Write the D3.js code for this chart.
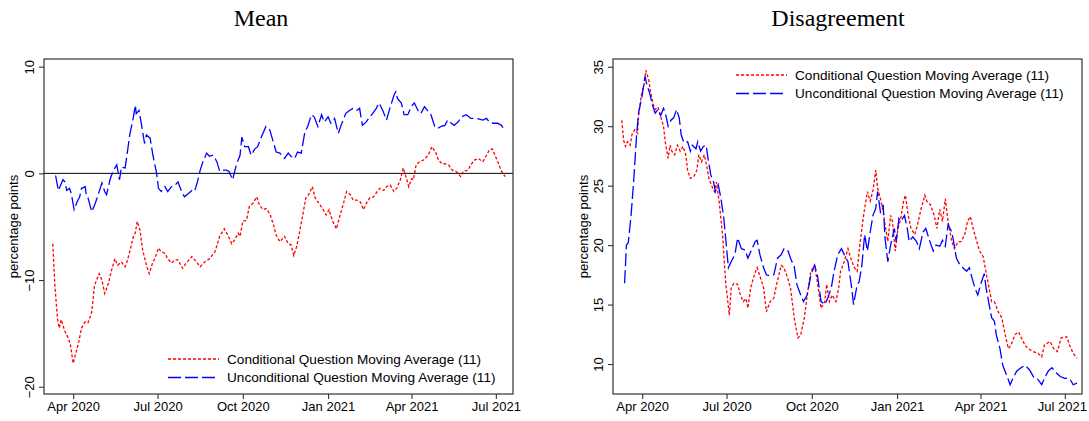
<!DOCTYPE html>
<html>
<head>
<meta charset="utf-8">
<script src="https://cdn.jsdelivr.net/npm/d3@7"></script>
<style>
body { margin: 0; background: #fff; }
text { font-family: "Liberation Sans", Arial, sans-serif; }
</style>
</head>
<body>
<svg id="chart" width="1089" height="421"></svg>
<script>
// values, [date, percentage points]
let meanConditional = [
  ["2020-03-10",-6.6],["2020-03-12",-10.2],["2020-03-15",-13.6],["2020-03-17",-14.5],["2020-03-19",-13.7],
  ["2020-03-23",-14.8],["2020-03-27",-15.5],["2020-03-29",-16.1],["2020-04-01",-17.8],["2020-04-04",-16.8],
  ["2020-04-07",-15.8],["2020-04-10",-14.5],["2020-04-14",-13.9],["2020-04-17",-14.0],["2020-04-21",-13.0],
  ["2020-04-24",-10.5],["2020-04-29",-9.4],["2020-05-02",-10.0],["2020-05-05",-11.25],["2020-05-09",-10.3],
  ["2020-05-12",-9.2],["2020-05-16",-8.0],["2020-05-19",-8.6],["2020-05-23",-8.3],["2020-05-27",-8.75],
  ["2020-05-29",-8.3],["2020-06-01",-7.35],["2020-06-05",-5.9],["2020-06-07",-5.6],["2020-06-09",-4.5],
  ["2020-06-12",-5.3],["2020-06-15",-7.2],["2020-06-19",-8.6],["2020-06-22",-9.4],["2020-06-26",-8.3],
  ["2020-06-28",-8.0],["2020-07-02",-7.0],["2020-07-05",-7.35],["2020-07-09",-7.5],["2020-07-12",-8.0],
  ["2020-07-16",-8.4],["2020-07-20",-8.1],["2020-07-23",-8.1],["2020-07-28",-8.9],["2020-08-01",-8.4],
  ["2020-08-07",-7.8],["2020-08-12",-8.3],["2020-08-16",-8.75],["2020-08-21",-8.3],["2020-08-26",-8.0],
  ["2020-09-01",-7.35],["2020-09-06",-5.9],["2020-09-11",-5.2],["2020-09-15",-5.8],["2020-09-19",-6.6],
  ["2020-09-22",-6.25],["2020-09-26",-5.6],["2020-09-28",-5.9],["2020-10-01",-4.5],["2020-10-05",-4.4],
  ["2020-10-08",-3.1],["2020-10-12",-2.8],["2020-10-16",-2.2],["2020-10-19",-3.0],["2020-10-23",-3.4],
  ["2020-10-26",-3.3],["2020-10-30",-3.75],["2020-11-03",-4.8],["2020-11-06",-5.8],["2020-11-10",-6.4],
  ["2020-11-15",-5.9],["2020-11-19",-6.6],["2020-11-22",-6.7],["2020-11-25",-7.7],["2020-11-28",-6.9],
  ["2020-12-01",-5.6],["2020-12-04",-4.2],["2020-12-08",-2.3],["2020-12-11",-2.0],["2020-12-15",-1.25],
  ["2020-12-18",-2.3],["2020-12-22",-2.8],["2020-12-26",-3.3],["2020-12-30",-3.9],["2021-01-02",-3.4],
  ["2021-01-06",-4.5],["2021-01-10",-5.2],["2021-01-14",-3.9],["2021-01-18",-2.7],["2021-01-21",-1.7],
  ["2021-01-25",-2.0],["2021-01-28",-2.5],["2021-02-01",-2.5],["2021-02-05",-2.7],["2021-02-08",-3.4],
  ["2021-02-12",-2.7],["2021-02-15",-2.3],["2021-02-19",-2.2],["2021-02-23",-1.7],["2021-02-26",-1.4],
  ["2021-03-02",-1.6],["2021-03-05",-1.25],["2021-03-09",-1.1],["2021-03-13",-1.7],["2021-03-16",-1.4],
  ["2021-03-20",-0.6],["2021-03-23",0.5],["2021-03-27",-0.6],["2021-03-29",-1.25],["2021-04-01",-0.5],
  ["2021-04-03",-0.6],["2021-04-06",0.8],["2021-04-10",1.1],["2021-04-14",1.25],["2021-04-19",1.7],
  ["2021-04-23",2.5],["2021-04-27",2.0],["2021-04-30",1.25],["2021-05-04",0.9],["2021-05-07",0.9],
  ["2021-05-11",0.8],["2021-05-15",0.3],["2021-05-19",0.2],["2021-05-24",-0.3],["2021-05-27",0.2],
  ["2021-06-01",0.3],["2021-06-04",0.8],["2021-06-08",1.25],["2021-06-12",1.4],["2021-06-17",1.1],
  ["2021-06-21",1.7],["2021-06-24",2.2],["2021-06-27",2.3],["2021-06-29",1.9],["2021-07-03",1.1],
  ["2021-07-07",0.2],["2021-07-11",-0.3]
]

let meanUnconditional = [
  ["2020-03-13",-0.2],["2020-03-16",-1.6],["2020-03-21",-0.6],["2020-03-23",-0.8],["2020-03-25",-1.6],
  ["2020-03-28",-1.4],["2020-03-30",-1.9],["2020-04-02",-3.4],["2020-04-05",-2.7],["2020-04-08",-2.2],
  ["2020-04-10",-1.4],["2020-04-14",-1.25],["2020-04-15",-2.0],["2020-04-17",-2.3],["2020-04-21",-3.6],
  ["2020-04-24",-3.0],["2020-04-28",-2.0],["2020-05-02",-0.9],["2020-05-05",-1.7],["2020-05-07",-2.0],
  ["2020-05-11",-0.5],["2020-05-14",0.2],["2020-05-18",0.8],["2020-05-21",-0.6],["2020-05-23",0.6],
  ["2020-05-27",0.5],["2020-05-29",1.7],["2020-06-01",3.6],["2020-06-05",5.3],["2020-06-07",6.4],
  ["2020-06-08",5.6],["2020-06-11",5.9],["2020-06-14",4.4],["2020-06-17",2.8],["2020-06-19",3.6],
  ["2020-06-23",3.3],["2020-06-26",1.7],["2020-06-30",0.0],["2020-07-02",-1.4],["2020-07-05",-1.7],
  ["2020-07-09",-1.25],["2020-07-12",-1.7],["2020-07-16",-1.25],["2020-07-20",-1.1],["2020-07-23",-0.8],
  ["2020-07-27",-1.7],["2020-07-30",-2.2],["2020-08-03",-1.9],["2020-08-07",-1.6],["2020-08-10",-1.7],
  ["2020-08-13",-0.8],["2020-08-16",0.3],["2020-08-19",1.1],["2020-08-23",1.9],["2020-08-26",1.6],
  ["2020-08-30",1.7],["2020-09-03",1.1],["2020-09-06",0.2],["2020-09-09",0.3],["2020-09-13",0.3],
  ["2020-09-16",0.2],["2020-09-20",-0.6],["2020-09-24",0.8],["2020-09-28",1.7],["2020-09-30",3.4],
  ["2020-10-03",2.5],["2020-10-07",2.5],["2020-10-10",1.7],["2020-10-14",2.3],["2020-10-17",2.5],
  ["2020-10-21",3.4],["2020-10-26",4.4],["2020-10-30",4.1],["2020-11-03",2.9],["2020-11-06",2.0],
  ["2020-11-10",1.9],["2020-11-15",1.4],["2020-11-19",1.9],["2020-11-22",1.6],["2020-11-26",1.4],
  ["2020-11-29",2.0],["2020-12-03",1.9],["2020-12-07",3.9],["2020-12-10",4.4],["2020-12-14",5.5],
  ["2020-12-17",5.3],["2020-12-21",4.4],["2020-12-25",5.5],["2020-12-28",4.8],["2021-01-01",5.3],
  ["2021-01-04",4.7],["2021-01-08",5.15],["2021-01-12",3.75],["2021-01-15",4.5],["2021-01-20",5.6],
  ["2021-01-24",5.9],["2021-01-28",6.1],["2021-02-01",5.9],["2021-02-04",6.1],["2021-02-07",4.5],
  ["2021-02-11",4.8],["2021-02-15",5.3],["2021-02-18",5.6],["2021-02-22",6.1],["2021-02-25",6.6],
  ["2021-03-01",5.9],["2021-03-05",5.0],["2021-03-08",5.9],["2021-03-13",7.3],["2021-03-15",7.65],
  ["2021-03-17",7.0],["2021-03-21",6.6],["2021-03-24",5.5],["2021-03-28",5.5],["2021-04-01",6.3],
  ["2021-04-04",6.6],["2021-04-08",5.9],["2021-04-11",5.6],["2021-04-15",6.25],["2021-04-19",5.8],
  ["2021-04-22",5.5],["2021-04-26",4.4],["2021-04-29",4.2],["2021-05-03",4.4],["2021-05-07",4.5],
  ["2021-05-10",5.0],["2021-05-14",4.7],["2021-05-17",4.5],["2021-05-21",4.8],["2021-05-25",5.3],
  ["2021-05-30",5.5],["2021-06-04",5.15],["2021-06-10",5.15],["2021-06-17",5.0],["2021-06-21",5.15],
  ["2021-06-24",4.8],["2021-06-28",4.7],["2021-07-03",4.7],["2021-07-07",4.5],["2021-07-10",4.1]
]

let disagreeConditional = [
  ["2020-03-10",30.5],["2020-03-12",28.8],["2020-03-14",28.3],["2020-03-16",28.7],["2020-03-19",28.4],
  ["2020-03-21",29.3],["2020-03-24",29.7],["2020-03-27",29.4],["2020-03-28",30.8],["2020-03-31",32.6],
  ["2020-04-03",33.5],["2020-04-05",34.7],["2020-04-08",33.9],["2020-04-10",32.9],["2020-04-13",31.8],
  ["2020-04-15",31.4],["2020-04-18",31.6],["2020-04-21",30.8],["2020-04-24",30.0],["2020-04-26",28.6],
  ["2020-04-29",27.3],["2020-05-01",28.4],["2020-05-03",27.9],["2020-05-06",27.6],["2020-05-09",28.4],
  ["2020-05-12",27.9],["2020-05-15",28.3],["2020-05-18",27.6],["2020-05-20",26.3],["2020-05-23",25.6],
  ["2020-05-27",25.8],["2020-05-30",26.3],["2020-06-01",27.6],["2020-06-04",27.0],["2020-06-07",27.6],
  ["2020-06-10",26.5],["2020-06-12",25.6],["2020-06-16",24.8],["2020-06-18",24.5],["2020-06-20",25.3],
  ["2020-06-23",23.7],["2020-06-27",20.6],["2020-06-30",16.9],["2020-07-04",14.1],["2020-07-06",16.4],
  ["2020-07-09",16.8],["2020-07-13",16.7],["2020-07-16",15.8],["2020-07-19",15.25],["2020-07-22",15.5],
  ["2020-07-24",14.7],["2020-07-27",16.4],["2020-07-31",17.5],["2020-08-03",18.1],["2020-08-06",17.4],
  ["2020-08-10",16.4],["2020-08-13",14.4],["2020-08-17",15.25],["2020-08-21",15.55],["2020-08-24",16.7],
  ["2020-08-29",18.3],["2020-09-01",18.1],["2020-09-05",17.2],["2020-09-08",16.4],["2020-09-12",13.9],
  ["2020-09-16",12.2],["2020-09-19",12.45],["2020-09-23",13.9],["2020-09-26",15.8],["2020-09-30",17.8],
  ["2020-10-04",18.3],["2020-10-07",16.9],["2020-10-11",14.7],["2020-10-15",15.25],["2020-10-17",16.7],
  ["2020-10-20",15.25],["2020-10-23",15.8],["2020-10-27",15.25],["2020-10-30",16.4],["2020-11-01",17.8],
  ["2020-11-05",18.6],["2020-11-09",19.7],["2020-11-12",18.9],["2020-11-16",18.1],["2020-11-19",17.8],
  ["2020-11-21",19.5],["2020-11-25",22.0],["2020-11-27",23.1],["2020-11-30",24.5],["2020-12-03",23.7],
  ["2020-12-06",24.6],["2020-12-09",26.3],["2020-12-11",24.8],["2020-12-14",23.9],["2020-12-17",22.8],
  ["2020-12-19",21.7],["2020-12-22",20.3],["2020-12-25",22.5],["2020-12-27",22.0],["2020-12-30",19.5],
  ["2021-01-02",21.4],["2021-01-05",22.25],["2021-01-08",23.7],["2021-01-10",24.2],["2021-01-13",22.5],
  ["2021-01-16",21.4],["2021-01-20",20.9],["2021-01-23",21.7],["2021-01-27",23.1],["2021-01-31",24.2],
  ["2021-02-02",23.7],["2021-02-06",23.4],["2021-02-10",22.5],["2021-02-13",21.4],["2021-02-16",23.0],
  ["2021-02-19",22.0],["2021-02-22",23.9],["2021-02-25",22.0],["2021-03-01",20.3],["2021-03-04",19.7],
  ["2021-03-08",20.3],["2021-03-11",20.3],["2021-03-15",20.9],["2021-03-18",22.0],["2021-03-21",22.4],
  ["2021-03-24",21.4],["2021-03-28",20.3],["2021-03-31",19.5],["2021-04-04",19.0],["2021-04-06",18.1],
  ["2021-04-09",16.9],["2021-04-13",15.25],["2021-04-16",15.25],["2021-04-20",14.4],["2021-04-24",13.9],
  ["2021-04-27",12.7],["2021-05-01",11.3],["2021-05-04",11.6],["2021-05-08",12.45],["2021-05-12",12.7],
  ["2021-05-15",12.2],["2021-05-19",11.6],["2021-05-22",11.3],["2021-05-28",11.05],["2021-06-02",10.9],
  ["2021-06-06",10.6],["2021-06-09",11.6],["2021-06-15",11.9],["2021-06-19",11.3],["2021-06-23",11.05],
  ["2021-06-27",12.2],["2021-07-03",12.3],["2021-07-06",11.6],["2021-07-10",10.9],["2021-07-14",10.5]
]

let disagreeUnconditional = [
  ["2020-03-13",16.8],["2020-03-15",20.0],["2020-03-17",20.2],["2020-03-20",22.5],["2020-03-23",25.6],
  ["2020-03-26",29.3],["2020-03-28",31.1],["2020-04-01",32.6],["2020-04-04",34.2],["2020-04-06",33.5],
  ["2020-04-09",32.8],["2020-04-12",31.8],["2020-04-15",31.1],["2020-04-18",31.4],["2020-04-21",30.9],
  ["2020-04-24",31.5],["2020-04-26",31.1],["2020-04-29",30.0],["2020-05-02",30.5],["2020-05-05",30.7],
  ["2020-05-08",31.4],["2020-05-11",30.7],["2020-05-13",29.3],["2020-05-16",28.6],["2020-05-20",28.7],
  ["2020-05-23",27.9],["2020-05-25",28.4],["2020-05-29",28.1],["2020-05-31",28.7],["2020-06-03",27.9],
  ["2020-06-06",28.3],["2020-06-09",28.4],["2020-06-11",27.3],["2020-06-14",25.9],["2020-06-17",25.3],
  ["2020-06-19",24.5],["2020-06-22",25.1],["2020-06-25",23.9],["2020-06-28",22.3],["2020-06-30",20.6],
  ["2020-07-03",18.1],["2020-07-06",18.6],["2020-07-10",19.2],["2020-07-13",20.6],["2020-07-17",19.7],
  ["2020-07-21",19.6],["2020-07-24",18.9],["2020-07-28",19.6],["2020-08-01",20.3],["2020-08-03",20.4],
  ["2020-08-06",19.2],["2020-08-10",18.1],["2020-08-13",17.5],["2020-08-17",17.4],["2020-08-21",17.5],
  ["2020-08-25",18.9],["2020-08-29",19.2],["2020-09-01",19.7],["2020-09-05",19.6],["2020-09-08",18.9],
  ["2020-09-12",18.2],["2020-09-15",16.65],["2020-09-19",15.8],["2020-09-22",15.25],["2020-09-26",15.8],
  ["2020-09-30",17.5],["2020-10-04",18.3],["2020-10-07",17.5],["2020-10-11",15.25],["2020-10-15",15.0],
  ["2020-10-18",15.5],["2020-10-22",16.4],["2020-10-25",17.8],["2020-10-29",19.2],["2020-11-02",19.7],
  ["2020-11-05",19.2],["2020-11-09",18.6],["2020-11-13",16.4],["2020-11-15",15.0],["2020-11-19",16.7],
  ["2020-11-21",16.9],["2020-11-24",18.3],["2020-11-27",20.9],["2020-11-30",19.5],["2020-12-03",21.1],
  ["2020-12-06",22.5],["2020-12-09",23.1],["2020-12-11",24.5],["2020-12-14",22.8],["2020-12-17",23.4],
  ["2020-12-19",20.6],["2020-12-22",18.6],["2020-12-25",20.0],["2020-12-29",21.4],["2020-12-31",20.3],
  ["2021-01-03",22.25],["2021-01-05",22.0],["2021-01-09",22.5],["2021-01-12",21.4],["2021-01-14",20.3],
  ["2021-01-18",20.7],["2021-01-22",20.3],["2021-01-25",19.7],["2021-01-29",21.1],["2021-02-01",21.4],
  ["2021-02-05",20.4],["2021-02-09",19.5],["2021-02-12",20.0],["2021-02-16",19.9],["2021-02-19",20.4],
  ["2021-02-22",19.9],["2021-02-25",21.7],["2021-03-01",21.1],["2021-03-03",20.3],["2021-03-06",18.9],
  ["2021-03-10",18.3],["2021-03-13",18.1],["2021-03-17",17.8],["2021-03-20",18.1],["2021-03-23",17.2],
  ["2021-03-26",16.4],["2021-03-29",15.8],["2021-04-02",16.9],["2021-04-05",17.6],["2021-04-07",16.4],
  ["2021-04-11",14.7],["2021-04-13",13.9],["2021-04-16",13.6],["2021-04-18",12.45],["2021-04-22",11.3],
  ["2021-04-25",9.9],["2021-04-29",9.1],["2021-05-03",8.26],["2021-05-06",8.8],["2021-05-10",9.4],
  ["2021-05-15",9.7],["2021-05-19",9.9],["2021-05-24",9.5],["2021-05-29",8.8],["2021-06-02",8.7],
  ["2021-06-06",8.26],["2021-06-09",8.8],["2021-06-13",9.4],["2021-06-17",9.7],["2021-06-22",9.24],
  ["2021-06-26",8.95],["2021-07-01",8.8],["2021-07-06",8.8],["2021-07-10",8.26],["2021-07-14",8.4]
]

let meanTicks = [-20, -10, 0, 10]
let disagreeTicks = [10, 15, 20, 25, 30, 35]
let seriesNames = ["Conditional Question Moving Average (11)", "Unconditional Question Moving Average (11)"]
let seriesColors = ["#ff0000", "#0000ff"]
let seriesDash = ["3,2", "13,4"]

let parse = d3.timeParse("%Y-%m-%d")
let svg = d3.select("#chart")

let plotTop = 59, plotBottom = 394
let xDomain = [new Date(2020, 1, 29, 12), new Date(2021, 6, 19, 12)]

let panels = [
  { title: "Mean", x0: 44, x1: 513, yDomain: [-20.68, 10.72], ticks: meanTicks,
    series: [meanConditional, meanUnconditional], zero: true, titleX: 261,
    legendX: 168, legendY: 359, yTitleX: 18 },
  { title: "Disagreement", x0: 613, x1: 1082, yDomain: [7.48, 35.65], ticks: disagreeTicks,
    series: [disagreeConditional, disagreeUnconditional], zero: false, titleX: 838,
    legendX: 736, legendY: 75, yTitleX: 588 }
]

panels.forEach(drawPanel)

function drawPanel(p) {
  let x = d3.scaleTime().domain(xDomain).range([p.x0, p.x1])
  let y = d3.scaleLinear().domain(p.yDomain).range([plotBottom, plotTop])
  let g = svg.append("g")

  g.append("text")
    .attr("x", p.titleX).attr("y", 26)
    .attr("text-anchor", "middle")
    .style("font-family", "'Liberation Serif', 'Times New Roman', serif")
    .style("font-size", "24px")
    .text(p.title)

  // y axis, Stata style vertical labels
  let yAxis = g.append("g")
    .attr("transform", "translate(" + p.x0 + ",0)")
    .call(d3.axisLeft(y).tickValues(p.ticks).tickSize(5).tickFormat(d3.format("d")))
  yAxis.select(".domain").remove()
  yAxis.selectAll(".tick line").attr("stroke", "#333").attr("stroke-width", 1.1)
  yAxis.selectAll(".tick text")
    .attr("x", null).attr("dy", null)
    .attr("transform", "translate(-10,0) rotate(-90)")
    .attr("text-anchor", "middle")
    .attr("fill", "#000")
    .style("font-size", "13px")

  g.append("text")
    .attr("transform", "translate(" + p.yTitleX + "," + ((plotTop + plotBottom) / 2) + ") rotate(-90)")
    .attr("text-anchor", "middle")
    .style("font-size", "13px")
    .text("percentage points")

  let xAxis = g.append("g")
    .attr("transform", "translate(0," + plotBottom + ")")
    .call(d3.axisBottom(x).ticks(d3.timeMonth.every(3)).tickSize(5).tickPadding(3)
      .tickFormat(d3.timeFormat("%b %Y")))
  xAxis.select(".domain").remove()
  xAxis.selectAll(".tick line").attr("stroke", "#333").attr("stroke-width", 1.1)
  xAxis.selectAll(".tick text").attr("fill", "#000").style("font-size", "13px")
  // last label sits against the page edge, nudge it in like the original
  xAxis.selectAll(".tick text").filter((d, i, n) => i === n.length - 1 && p.x1 > 1000)
    .attr("x", -3)

  if (p.zero) {
    g.append("line")
      .attr("x1", p.x0).attr("x2", p.x1)
      .attr("y1", y(0)).attr("y2", y(0))
      .attr("stroke", "#000").attr("stroke-width", 1)
  }

  let line = d3.line()
    .x(d => x(parse(d[0])))
    .y(d => y(d[1]))

  p.series.forEach((s, i) => {
    g.append("path")
      .datum(s)
      .attr("d", line)
      .attr("fill", "none")
      .attr("stroke", seriesColors[i])
      .attr("stroke-width", 1.3)
      .attr("stroke-dasharray", seriesDash[i])
  })

  // plot frame
  g.append("rect")
    .attr("x", p.x0).attr("y", plotTop)
    .attr("width", p.x1 - p.x0).attr("height", plotBottom - plotTop)
    .attr("fill", "none").attr("stroke", "#333").attr("stroke-width", 1.2)

  let legend = g.append("g")
  seriesNames.forEach((name, i) => {
    let ly = p.legendY + i * 18.5
    legend.append("line")
      .attr("x1", p.legendX).attr("x2", p.legendX + 51)
      .attr("y1", ly).attr("y2", ly)
      .attr("stroke", seriesColors[i])
      .attr("stroke-width", 1.3)
      .attr("stroke-dasharray", seriesDash[i])
    legend.append("text")
      .attr("x", p.legendX + 59).attr("y", ly)
      .attr("dy", "0.35em")
      .style("font-size", "13.6px")
      .text(name)
  })
}
</script>
</body>
</html>
